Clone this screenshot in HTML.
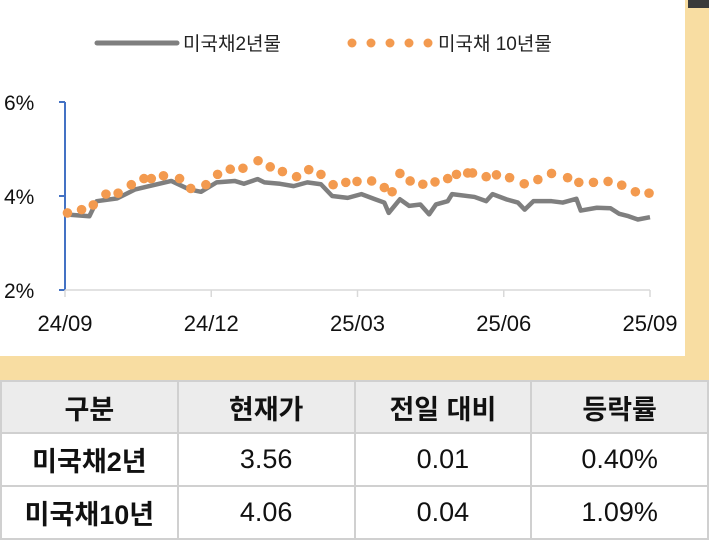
<!DOCTYPE html>
<html><head><meta charset="utf-8"><style>
body{margin:0;width:709px;height:540px;overflow:hidden;background:#fff;font-family:"Liberation Sans","Noto Sans CJK KR",sans-serif;position:relative}
.abs{position:absolute}
table{position:absolute;left:0;top:380px;width:709px;height:160px;border-collapse:collapse;table-layout:fixed}
td{border:2px solid #d0d0d0;text-align:center;font-size:27px;color:#111;padding:0}
tr.h td{background:#ececec;font-weight:bold;height:50px}
td.b{font-weight:bold}
</style></head><body>
<div class="abs" style="left:685px;top:0;width:24px;height:380px;background:#f8dda2"></div>
<div class="abs" style="left:688px;top:0;width:21px;height:8px;background:#3a3a3a"></div>
<div class="abs" style="left:0;top:356px;width:709px;height:24px;background:#f8dda2"></div>
<svg class="abs" style="left:0;top:0" width="685" height="356">
<g id="legend">
<line x1="97" y1="43" x2="177" y2="43" stroke="#7f7f7f" stroke-width="5" stroke-linecap="round"/>
<text x="183" y="50" font-size="19" fill="#222">미국채2년물</text>
<g fill="#f39a4f"><circle cx="352" cy="43" r="4.5"/><circle cx="371" cy="43" r="4.5"/><circle cx="390" cy="43" r="4.5"/><circle cx="409" cy="43" r="4.5"/><circle cx="428" cy="43" r="4.5"/></g>
<text x="438" y="50" font-size="19" fill="#222">미국채 10년물</text>
</g>
<g id="axes"></g><g id="marks"></g>
</svg>
<table>
<tr class="h"><td>구분</td><td>현재가</td><td>전일 대비</td><td>등락률</td></tr>
<tr><td class="b">미국채2년</td><td>3.56</td><td>0.01</td><td>0.40%</td></tr>
<tr><td class="b">미국채10년</td><td>4.06</td><td>0.04</td><td>1.09%</td></tr>
</table>
<script>
const xTickLabels=["24/09","24/12","25/03","25/06","25/09"];
const yTickValues=[2,4,6];
const t2y=[0,0.5,0.65,1.07,1.44,1.72,2.18,2.55,2.79,3.11,3.48,3.67,3.95,4.09,4.41,4.69,4.97,5.25,5.48,5.8,6.08,6.36,6.55,6.64,6.87,7.06,7.29,7.47,7.61,7.85,7.94,8.4,8.64,8.77,9.05,9.29,9.43,9.61,9.98,10.21,10.49,10.58,10.91,11.19,11.37,11.56,11.75,12];
const v2y=[3.61,3.57,3.89,3.95,4.14,4.21,4.32,4.14,4.09,4.29,4.32,4.26,4.36,4.29,4.26,4.21,4.29,4.25,4.0,3.96,4.04,3.93,3.86,3.64,3.93,3.79,3.82,3.61,3.82,3.89,4.04,3.98,3.89,4.04,3.93,3.86,3.71,3.89,3.89,3.86,3.94,3.69,3.75,3.74,3.62,3.57,3.5,3.55];
const t10y=[0.05,0.34,0.58,0.84,1.09,1.36,1.62,1.77,2.02,2.35,2.58,2.89,3.13,3.39,3.65,3.96,4.21,4.46,4.75,5.0,5.25,5.5,5.76,5.99,6.29,6.55,6.71,6.87,7.08,7.34,7.59,7.85,8.03,8.26,8.36,8.64,8.85,9.12,9.42,9.7,9.98,10.31,10.54,10.84,11.14,11.42,11.7,11.98];
const v10y=[3.64,3.71,3.81,4.04,4.06,4.24,4.37,4.37,4.43,4.37,4.16,4.24,4.46,4.57,4.59,4.75,4.62,4.52,4.41,4.56,4.46,4.24,4.29,4.31,4.32,4.18,4.09,4.48,4.32,4.25,4.30,4.37,4.46,4.49,4.49,4.41,4.45,4.39,4.26,4.35,4.48,4.39,4.29,4.29,4.31,4.23,4.09,4.06];
const NS="http://www.w3.org/2000/svg";
const X=t=>65+t*48.75, Y=v=>196-(v-4)*47;
function mk(tag,attrs,parent){const e=document.createElementNS(NS,tag);for(const k in attrs)e.setAttribute(k,attrs[k]);parent.appendChild(e);return e;}
const ax=document.getElementById('axes'), mg=document.getElementById('marks');
let e=mk('line',{x1:65,y1:Y(6),x2:65,y2:Y(2),stroke:'#4472c4','stroke-width':2},ax);


e=mk('line',{x1:65,y1:Y(2),x2:650,y2:Y(2),stroke:'#d9d9d9','stroke-width':1.5},ax);


yTickValues.forEach(v=>{
 mk('line',{x1:59,y1:Y(v),x2:65,y2:Y(v),stroke:'#4472c4','stroke-width':2},ax);
 const t=mk('text',{x:4,y:Y(v)+8,'font-size':21,fill:'#111'},ax);t.textContent=v+'%';
 
 
});
xTickLabels.forEach((l,i)=>{
 const x=X(i*3);
 mk('line',{x1:x,y1:Y(2),x2:x,y2:Y(2)+7,stroke:'#d9d9d9','stroke-width':1.5},ax);
 const t=mk('text',{x:x,y:331,'font-size':22,fill:'#111','text-anchor':'middle'},ax);t.textContent=l;
 
 
});
const p=mk('polyline',{points:t2y.map((t,i)=>X(t)+','+Y(v2y[i])).join(' '),fill:'none',stroke:'#7f7f7f','stroke-width':4.5,'stroke-linejoin':'round'},mg);


t10y.forEach((t,i)=>{
 const c=mk('circle',{cx:X(t),cy:Y(v10y[i]),r:4.8,fill:'#f39a4f'},mg);
 
 
});
</script>
</body></html>
